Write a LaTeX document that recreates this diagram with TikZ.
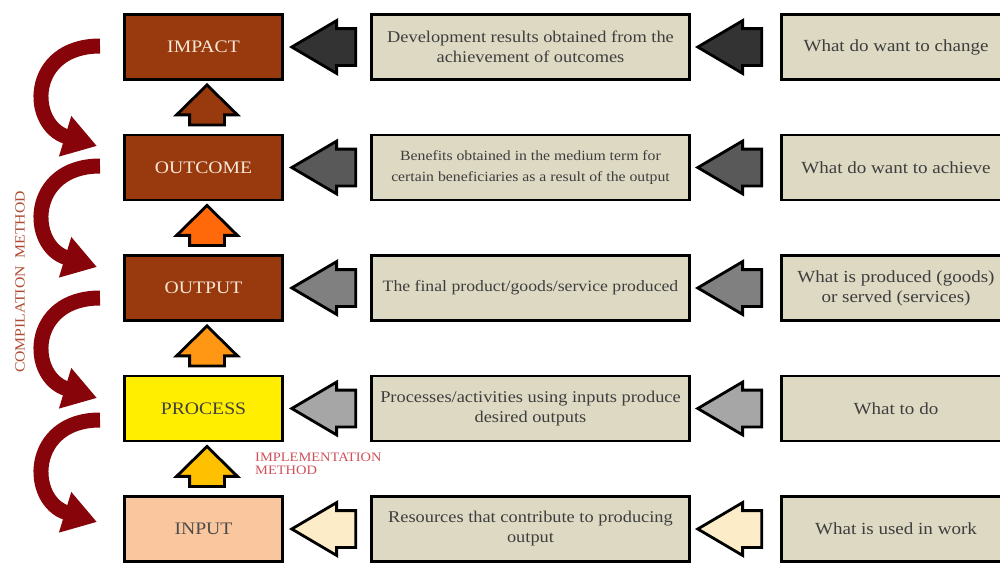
\documentclass[tikz,border=0pt]{standalone}
\usepackage{fontspec}
\setmainfont[FakeStretch=1.12]{Liberation Serif}
\usepackage{xcolor}
\usetikzlibrary{arrows.meta,positioning,shapes.arrows}

\definecolor{brownbox}{RGB}{153,57,14}
\definecolor{procyellow}{RGB}{255,238,0}
\definecolor{inpeach}{RGB}{250,198,158}
\definecolor{descbox}{RGB}{221,217,195}
\definecolor{desctext}{RGB}{62,62,62}
\definecolor{titlecream}{RGB}{246,232,214}
\definecolor{curvered}{RGB}{135,5,10}
\definecolor{compred}{RGB}{175,75,50}
\definecolor{implred}{RGB}{205,80,90}

\tikzset{
  lbox/.style={rectangle,draw=black,line width=2.4pt,minimum width=47.4mm,minimum height=19.5mm,inner sep=0pt,font=\fontsize{15}{17}\selectfont},
  mbox/.style={rectangle,draw=black,line width=2.4pt,fill=descbox,text=desctext,minimum width=95.4mm,minimum height=19.5mm,inner sep=0pt,align=center,font=\fontsize{14}{17}\selectfont},
  rbox/.style={rectangle,draw=black,line width=2.4pt,fill=descbox,text=desctext,minimum width=68.7mm,minimum height=19.5mm,inner sep=0pt,align=center,font=\fontsize{14.5}{17}\selectfont},
  larr/.style={single arrow,draw=black,line width=2.4pt,rotate=180,anchor=tip,minimum height=19.2mm,inner xsep=0pt,inner ysep=5.1mm,single arrow head extend=2.4mm,single arrow tip angle=61},
  uarr/.style={single arrow,draw=black,line width=2.4pt,rotate=90,anchor=tip,minimum height=12mm,inner xsep=0pt,inner ysep=4.8mm,single arrow head extend=3.9mm,single arrow tip angle=91},
  curvearr/.style={draw=curvered,line width=4.5mm,-{Triangle[length=10mm,width=12mm]}}
}

\begin{document}
\begin{tikzpicture}[x=0.3mm,y=0.3mm]
  \clip (0,0) rectangle (1000,-564);

  % left column
  \node[lbox,fill=brownbox,text=titlecream] (im) at (203.5,-47){IMPACT};
  \node[lbox,fill=brownbox,text=titlecream] (oc) at (203.5,-167.5){OUTCOME};
  \node[lbox,fill=brownbox,text=titlecream] (op) at (203.5,-288){OUTPUT};
  \node[lbox,fill=procyellow,text=black!75] (pr) at (203.5,-408.5){PROCESS};
  \node[lbox,fill=inpeach,text=black!70] (in) at (203.5,-529){INPUT};

  % middle column
  \node[mbox] (imd) at (530.5,-47){Development results obtained from the\\achievement of outcomes};
  \node[mbox,font=\fontsize{12}{18}\selectfont] (ocd) at (530.5,-167.5){Benefits obtained in the medium term for\\certain beneficiaries as a result of the output};
  \node[mbox,font=\fontsize{13.5}{17}\selectfont] (opd) at (530.5,-288){The final product/goods/service produced};
  \node[mbox] (prd) at (530.5,-408.5){Processes/activities using inputs produce\\desired outputs};
  \node[mbox] (ind) at (530.5,-529){Resources that contribute to producing\\output};

  % right column
  \node[rbox] (imq) at (896,-47){What do want to change};
  \node[rbox] (ocq) at (896,-167.5){What do want to achieve};
  \node[rbox] (opq) at (896,-288){What is produced (goods)\\or served (services)};
  \node[rbox] (prq) at (896,-408.5){What to do};
  \node[rbox] (inq) at (896,-529){What is used in work};

  % block arrows
  \node[larr,fill=black!80] (a1) at (289,-47){};
  \node[larr,fill=black!65] (a2) at (289,-167.5){};
  \node[larr,fill=black!50] (a3) at (289,-288){};
  \node[larr,fill=black!35] (a4) at (289,-408.5){};
  \node[larr,fill={rgb,255:red,253;green,236;blue,200}] (a5) at (289,-529){};
  \node[larr,fill=black!80] (b1) at (695,-47){};
  \node[larr,fill=black!65] (b2) at (695,-167.5){};
  \node[larr,fill=black!50] (b3) at (695,-288){};
  \node[larr,fill=black!35] (b4) at (695,-408.5){};
  \node[larr,fill={rgb,255:red,253;green,236;blue,200}] (b5) at (695,-529){};

  \node[uarr,fill=brownbox] (u1) at (207,-83){};
  \node[uarr,fill={rgb,255:red,255;green,105;blue,10}] (u2) at (207,-203.5){};
  \node[uarr,fill={rgb,255:red,255;green,150;blue,20}] (u3) at (207,-324){};
  \node[uarr,fill={rgb,255:red,255;green,192;blue,0}] (u4) at (207,-444.5){};

  % curved arrows
  \coordinate (c1) at (100,-46);
  \coordinate (c2) at (97,-146);
  \coordinate (c3) at (100,-166);
  \coordinate (c4) at (97,-267);
  \coordinate (c5) at (100,-298);
  \coordinate (c6) at (97,-398);
  \coordinate (c7) at (100,-420);
  \coordinate (c8) at (97,-522);
  \draw[curvearr] (c1) .. controls (28,-46) and (28,-125) .. (c2);
  \draw[curvearr] (c3) .. controls (28,-166) and (28,-246) .. (c4);
  \draw[curvearr] (c5) .. controls (28,-298) and (28,-377) .. (c6);
  \draw[curvearr] (c7) .. controls (28,-420) and (28,-501) .. (c8);

  % labels
  \node[rotate=90,text=compred,inner sep=0pt,font=\fontsize{12}{12}\selectfont] (cm) at (20,-282){COMPILATION\ \ METHOD};
  \node[anchor=north west,align=left,text=implred,inner sep=0pt,font=\fontsize{11}{11}\selectfont] (imp) at (255,-453){IMPLEMENTATION\\METHOD};

\end{tikzpicture}
\end{document}
